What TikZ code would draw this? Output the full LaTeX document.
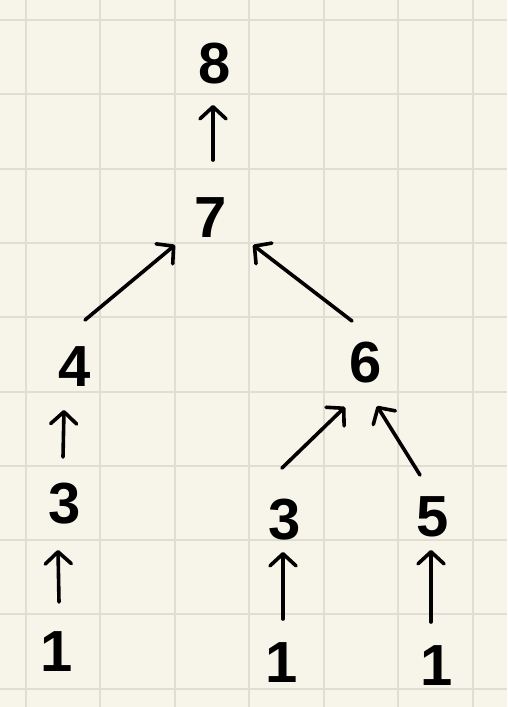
\documentclass[tikz,border=0pt]{standalone}
\usepackage{fontspec}
\setmainfont{Liberation Sans}
\usetikzlibrary{arrows.meta,calc}
\definecolor{paper}{HTML}{F7F5EA}
\definecolor{gridc}{HTML}{E0DED2}
\tikzset{
  digit/.style={inner sep=0pt, font=\fontsize{58}{58}\selectfont\bfseries},
  arr/.style={line width=3.6pt, line cap=round, -{Straight Barb[length=12pt,width=26pt,round]}},
  gridline/.style={gridc, line width=2pt}
}
\begin{document}
\begin{tikzpicture}[x=1pt,y=-1pt]
\fill[paper] (0,0) rectangle (507,707);
\useasboundingbox (0,0) rectangle (507,707);
\foreach \k in {0,...,6} \draw[gridline] ({25.5+74.5*\k},0) -- ({25.5+74.5*\k},707);
\foreach \k in {0,...,9} \draw[gridline] (0,{20+74.3*\k}) -- (507,{20+74.3*\k});

\node[digit] (n8) at (215,64) {8};
\node[digit] (n7) at (211,218) {7};
\node[digit] (n4) at (75,367) {4};
\node[digit] (n6) at (366,363) {6};
\node[digit] (n3a) at (65,504) {3};
\node[digit] (n3b) at (285,520) {3};
\node[digit] (n5) at (433,517) {5};
\node[digit] (n1a) at (57,652) {1};
\node[digit] (n1b) at (282,663) {1};
\node[digit] (n1c) at (437,666) {1};

\draw[arr] ($(n7.center)+(2,-58)$) -- ($(n8.center)+(-2,41)$);
\draw[arr] ($(n4.center)+(10,-47)$) -- ($(n7.center)+(-36,27)$);
\draw[arr] ($(n6.center)+(-14,-42)$) -- ($(n7.center)+(42,27)$);
\draw[arr] ($(n3a.center)+(-2,-47)$) -- ($(n4.center)+(-11,43)$);
\draw[arr] ($(n1a.center)+(2,-50)$) -- ($(n3a.center)+(-7,46)$);
\draw[arr] ($(n3b.center)+(-3,-52)$) -- ($(n6.center)+(-21,44)$);
\draw[arr] ($(n5.center)+(-13,-42)$) -- ($(n6.center)+(11,43)$);
\draw[arr] ($(n1b.center)+(1,-44)$) -- ($(n3b.center)+(-2,32)$);
\draw[arr] ($(n1c.center)+(-6,-44)$) -- ($(n5.center)+(-2,33)$);
\end{tikzpicture}
\end{document}
